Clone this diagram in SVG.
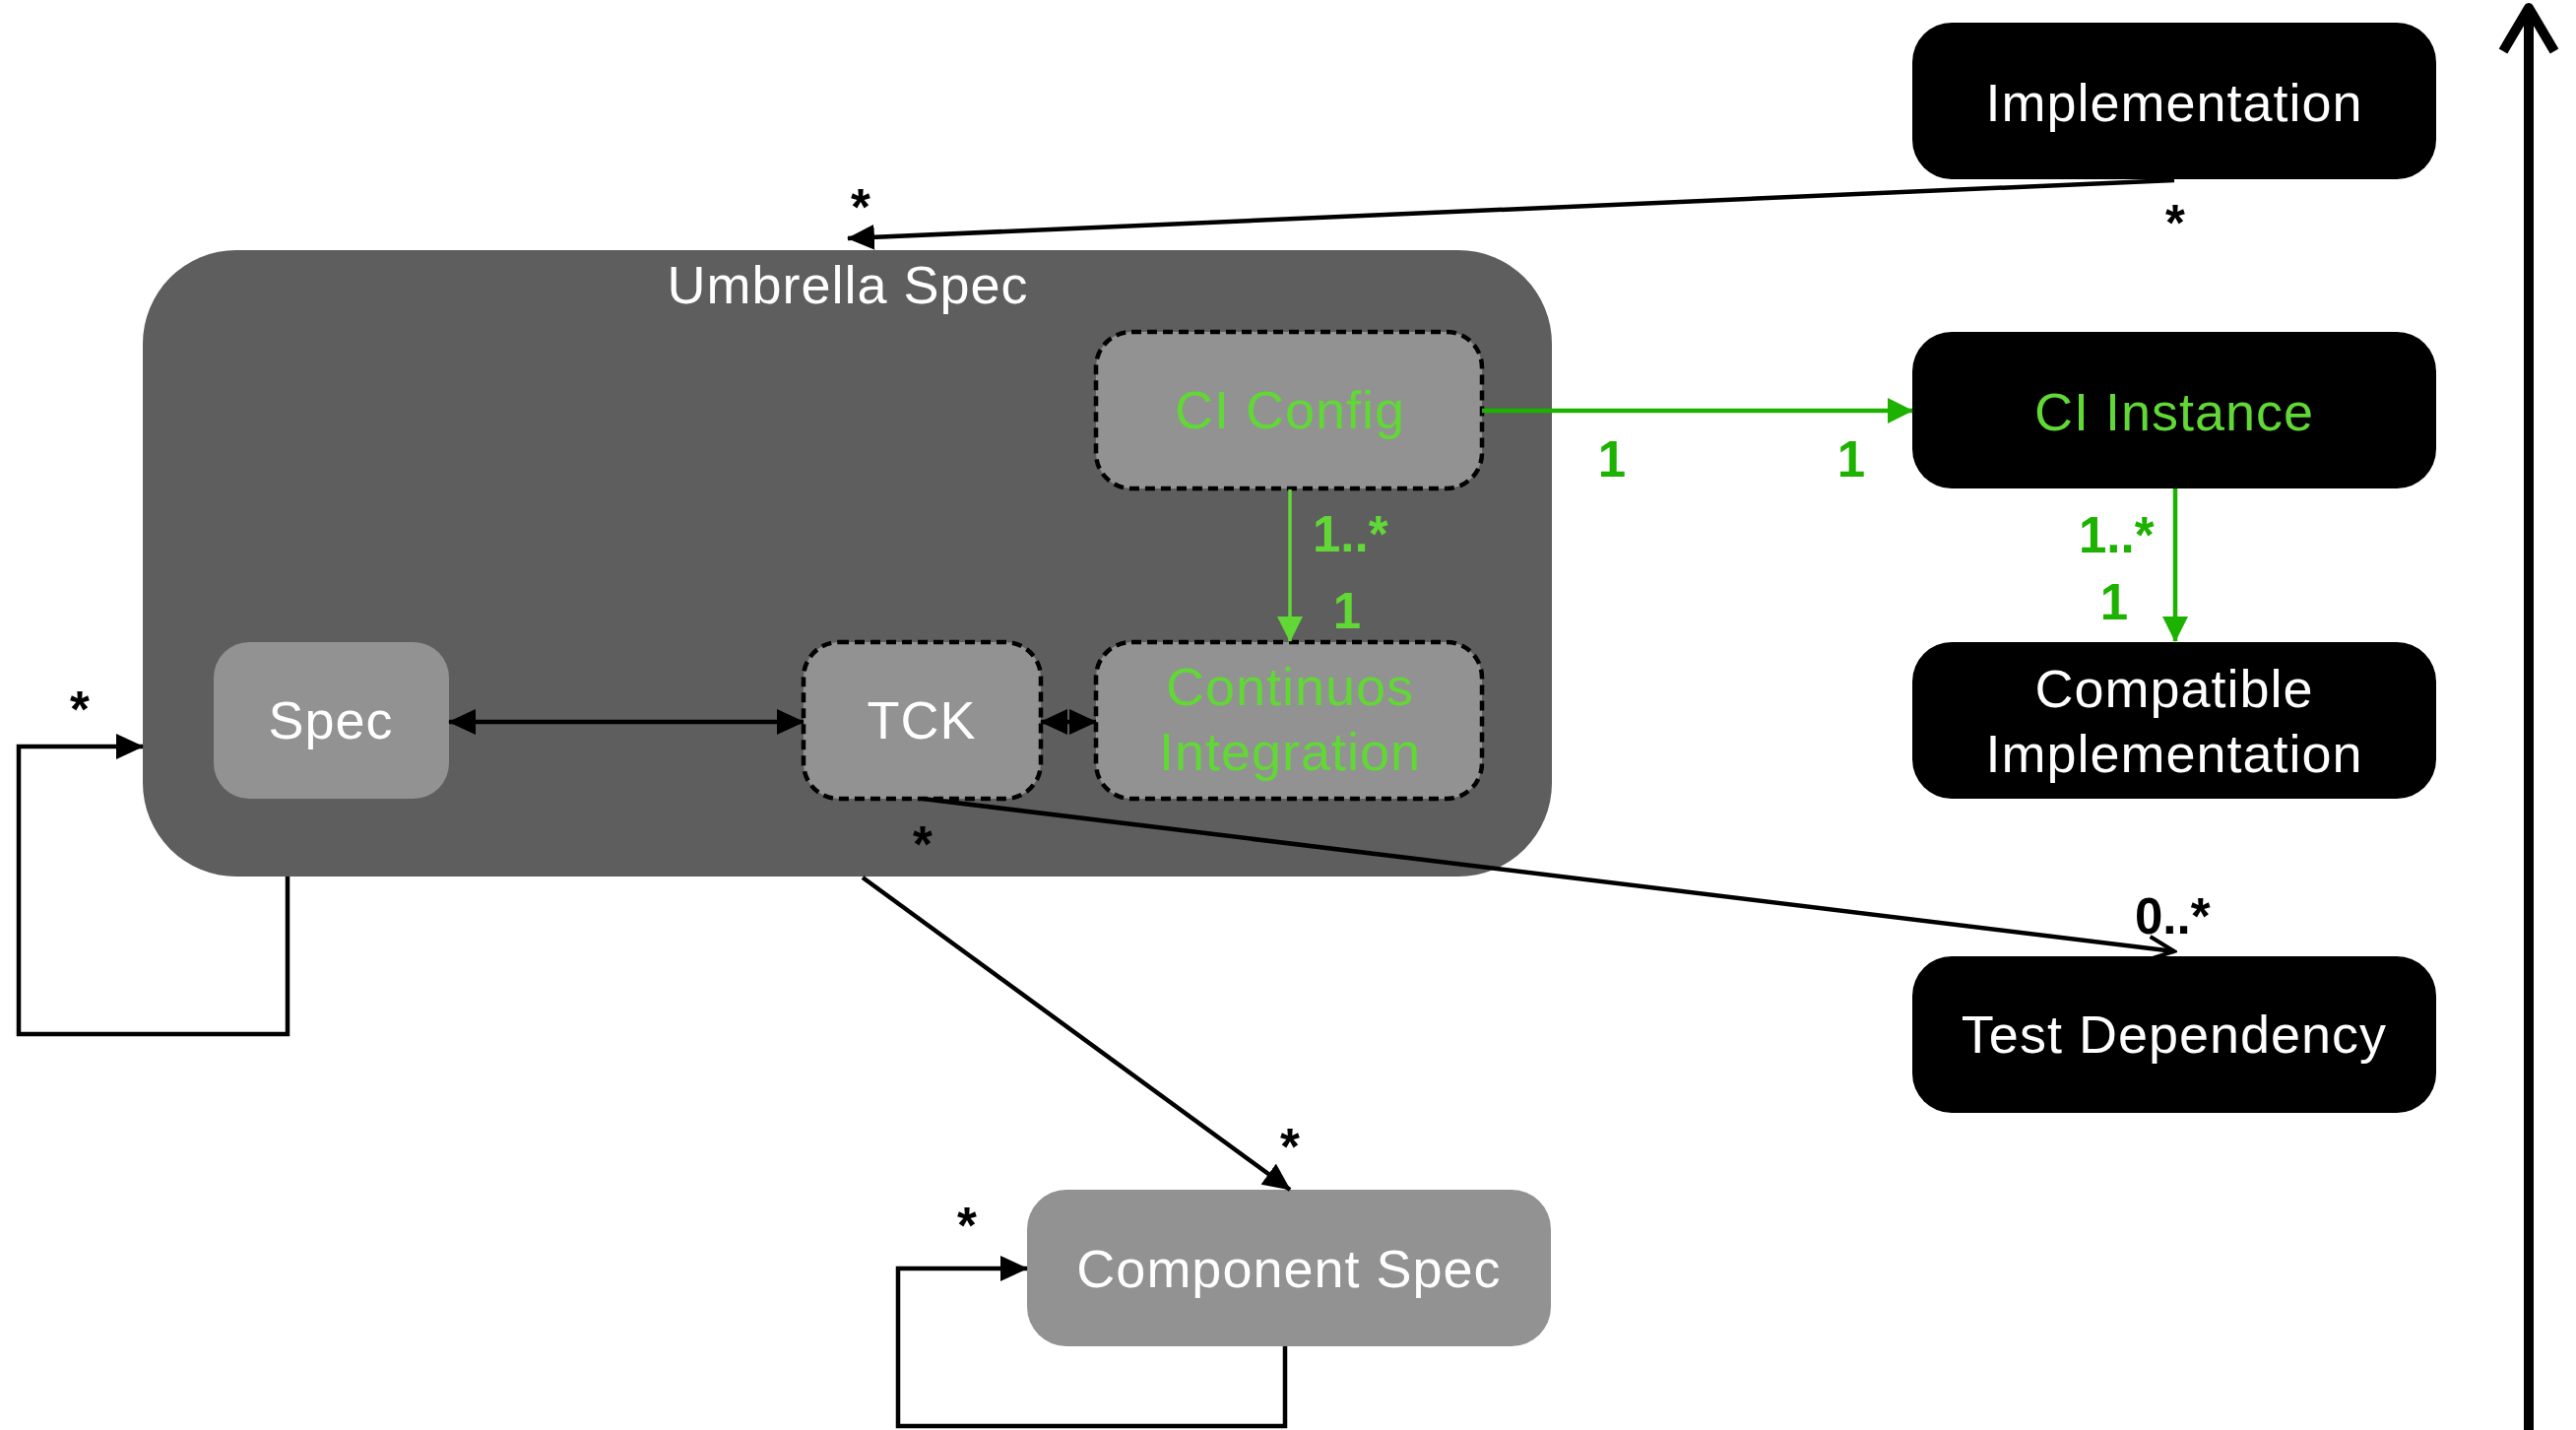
<svg xmlns="http://www.w3.org/2000/svg" width="2616" height="1452" viewBox="0 0 2616 1452">
<style>
.t{font-family:"Liberation Sans",Arial,Helvetica,sans-serif;font-size:54px;letter-spacing:1px;text-anchor:middle;fill:#fff}
.g{fill:#61D836}
.lbl{font-family:"Liberation Sans",Arial,Helvetica,sans-serif;font-size:51px;font-weight:bold}
.k{fill:#000}
.dg{fill:#1DB100}
.blk{fill:#000}
.gry{fill:#929292}
.dash{stroke:#000;stroke-width:4.5;stroke-dasharray:10 6}
.ln{fill:none;stroke:#000;stroke-width:4.5}
</style>
<defs>
<marker id="ah" markerUnits="userSpaceOnUse" markerWidth="28" markerHeight="26" viewBox="0 0 28 26" refX="27" refY="13" orient="auto-start-reverse"><path d="M0,0 L28,13 L0,26 z" fill="#000"/></marker>
<marker id="ahg" markerUnits="userSpaceOnUse" markerWidth="26" markerHeight="26" viewBox="0 0 26 26" refX="25" refY="13" orient="auto"><path d="M0,0 L26,13 L0,26 z" fill="#1DB100"/></marker>
<marker id="ahl" markerUnits="userSpaceOnUse" markerWidth="26" markerHeight="26" viewBox="0 0 26 26" refX="25" refY="13" orient="auto"><path d="M0,0 L26,13 L0,26 z" fill="#61D836"/></marker>
<marker id="oh" markerUnits="userSpaceOnUse" markerWidth="32" markerHeight="30" viewBox="0 0 32 30" refX="29" refY="15" orient="auto"><path d="M3,3 L29,15 L3,27" fill="none" stroke="#000" stroke-width="4"/></marker>
</defs>

<g id="umbrella-spec">
<rect x="145" y="254" width="1431" height="636" rx="95" fill="#5E5E5E"/>
<text class="t" x="861" y="308">Umbrella Spec</text>
</g>

<g id="spec">
<rect class="gry" x="217" y="652" width="239" height="159" rx="36"/>
<text class="t" x="336" y="750">Spec</text>
</g>

<g id="tck">
<rect class="gry dash" x="816" y="652" width="241" height="159" rx="36"/>
<text class="t" x="936" y="750">TCK</text>
</g>

<g id="ci-config">
<rect class="gry dash" x="1113" y="337" width="392" height="159" rx="36"/>
<text class="t g" x="1310" y="435">CI Config</text>
</g>

<g id="continuous-integration">
<rect class="gry dash" x="1113" y="652" width="392" height="159" rx="36"/>
<text class="t g" x="1310" y="716">Continuos</text>
<text class="t g" x="1310" y="782">Integration</text>
</g>

<g id="implementation">
<rect class="blk" x="1942" y="23" width="532" height="159" rx="40"/>
<text class="t" x="2208" y="123">Implementation</text>
</g>

<g id="ci-instance">
<rect class="blk" x="1942" y="337" width="532" height="159" rx="40"/>
<text class="t g" x="2208" y="437">CI Instance</text>
</g>

<g id="compatible-implementation">
<rect class="blk" x="1942" y="652" width="532" height="159" rx="40"/>
<text class="t" x="2208" y="718">Compatible</text>
<text class="t" x="2208" y="784">Implementation</text>
</g>

<g id="test-dependency">
<rect class="blk" x="1942" y="971" width="532" height="159" rx="40"/>
<text class="t" x="2208" y="1069">Test Dependency</text>
</g>

<g id="component-spec">
<rect class="gry" x="1043" y="1208" width="532" height="159" rx="40"/>
<text class="t" x="1309" y="1307">Component Spec</text>
</g>

<g id="connectors">
<line class="ln" x1="2208" y1="183" x2="861" y2="242" marker-end="url(#ah)"/>
<line class="ln" x1="456" y1="733" x2="816" y2="733" marker-start="url(#ah)" marker-end="url(#ah)"/>
<line class="ln" x1="1057" y1="733" x2="1113" y2="733" marker-start="url(#ah)" marker-end="url(#ah)"/>
<line x1="1505" y1="417" x2="1942" y2="417" stroke="#1DB100" stroke-width="4.5" marker-end="url(#ahg)"/>
<line x1="1310" y1="497" x2="1310" y2="651" stroke="#61D836" stroke-width="3.5" marker-end="url(#ahl)"/>
<line x1="2209" y1="496" x2="2209" y2="651" stroke="#1DB100" stroke-width="4.5" marker-end="url(#ahg)"/>
<line class="ln" x1="937" y1="811" x2="2208" y2="966" marker-end="url(#oh)"/>
<line class="ln" x1="876" y1="891" x2="1310" y2="1208" marker-end="url(#ah)"/>
<path class="ln" d="M292,890 L292,1050 L19,1050 L19,758 L145,758" marker-end="url(#ah)"/>
<path class="ln" d="M1305,1367 L1305,1448 L912,1448 L912,1288 L1043,1288" marker-end="url(#ah)"/>
<path d="M2568,1452 L2568,12" fill="none" stroke="#000" stroke-width="10"/>
<path d="M2542,52 L2568,8 L2594,52" fill="none" stroke="#000" stroke-width="10" stroke-linejoin="round"/>
</g>

<g id="labels">
<text class="lbl k" x="874" y="228" text-anchor="middle">*</text>
<text class="lbl k" x="2209" y="244" text-anchor="middle">*</text>
<text class="lbl k" x="81" y="738" text-anchor="middle">*</text>
<text class="lbl k" x="937" y="875" text-anchor="middle">*</text>
<text class="lbl k" x="1310" y="1182" text-anchor="middle">*</text>
<text class="lbl k" x="982" y="1262" text-anchor="middle">*</text>
<text class="lbl k" x="2168" y="948">0..*</text>
<text class="lbl dg" x="1637" y="484" text-anchor="middle">1</text>
<text class="lbl dg" x="1880" y="484" text-anchor="middle">1</text>
<text class="lbl g" x="1333" y="560">1..*</text>
<text class="lbl g" x="1368" y="638" text-anchor="middle">1</text>
<text class="lbl dg" x="2111" y="561">1..*</text>
<text class="lbl dg" x="2147" y="629" text-anchor="middle">1</text>
</g>
</svg>
